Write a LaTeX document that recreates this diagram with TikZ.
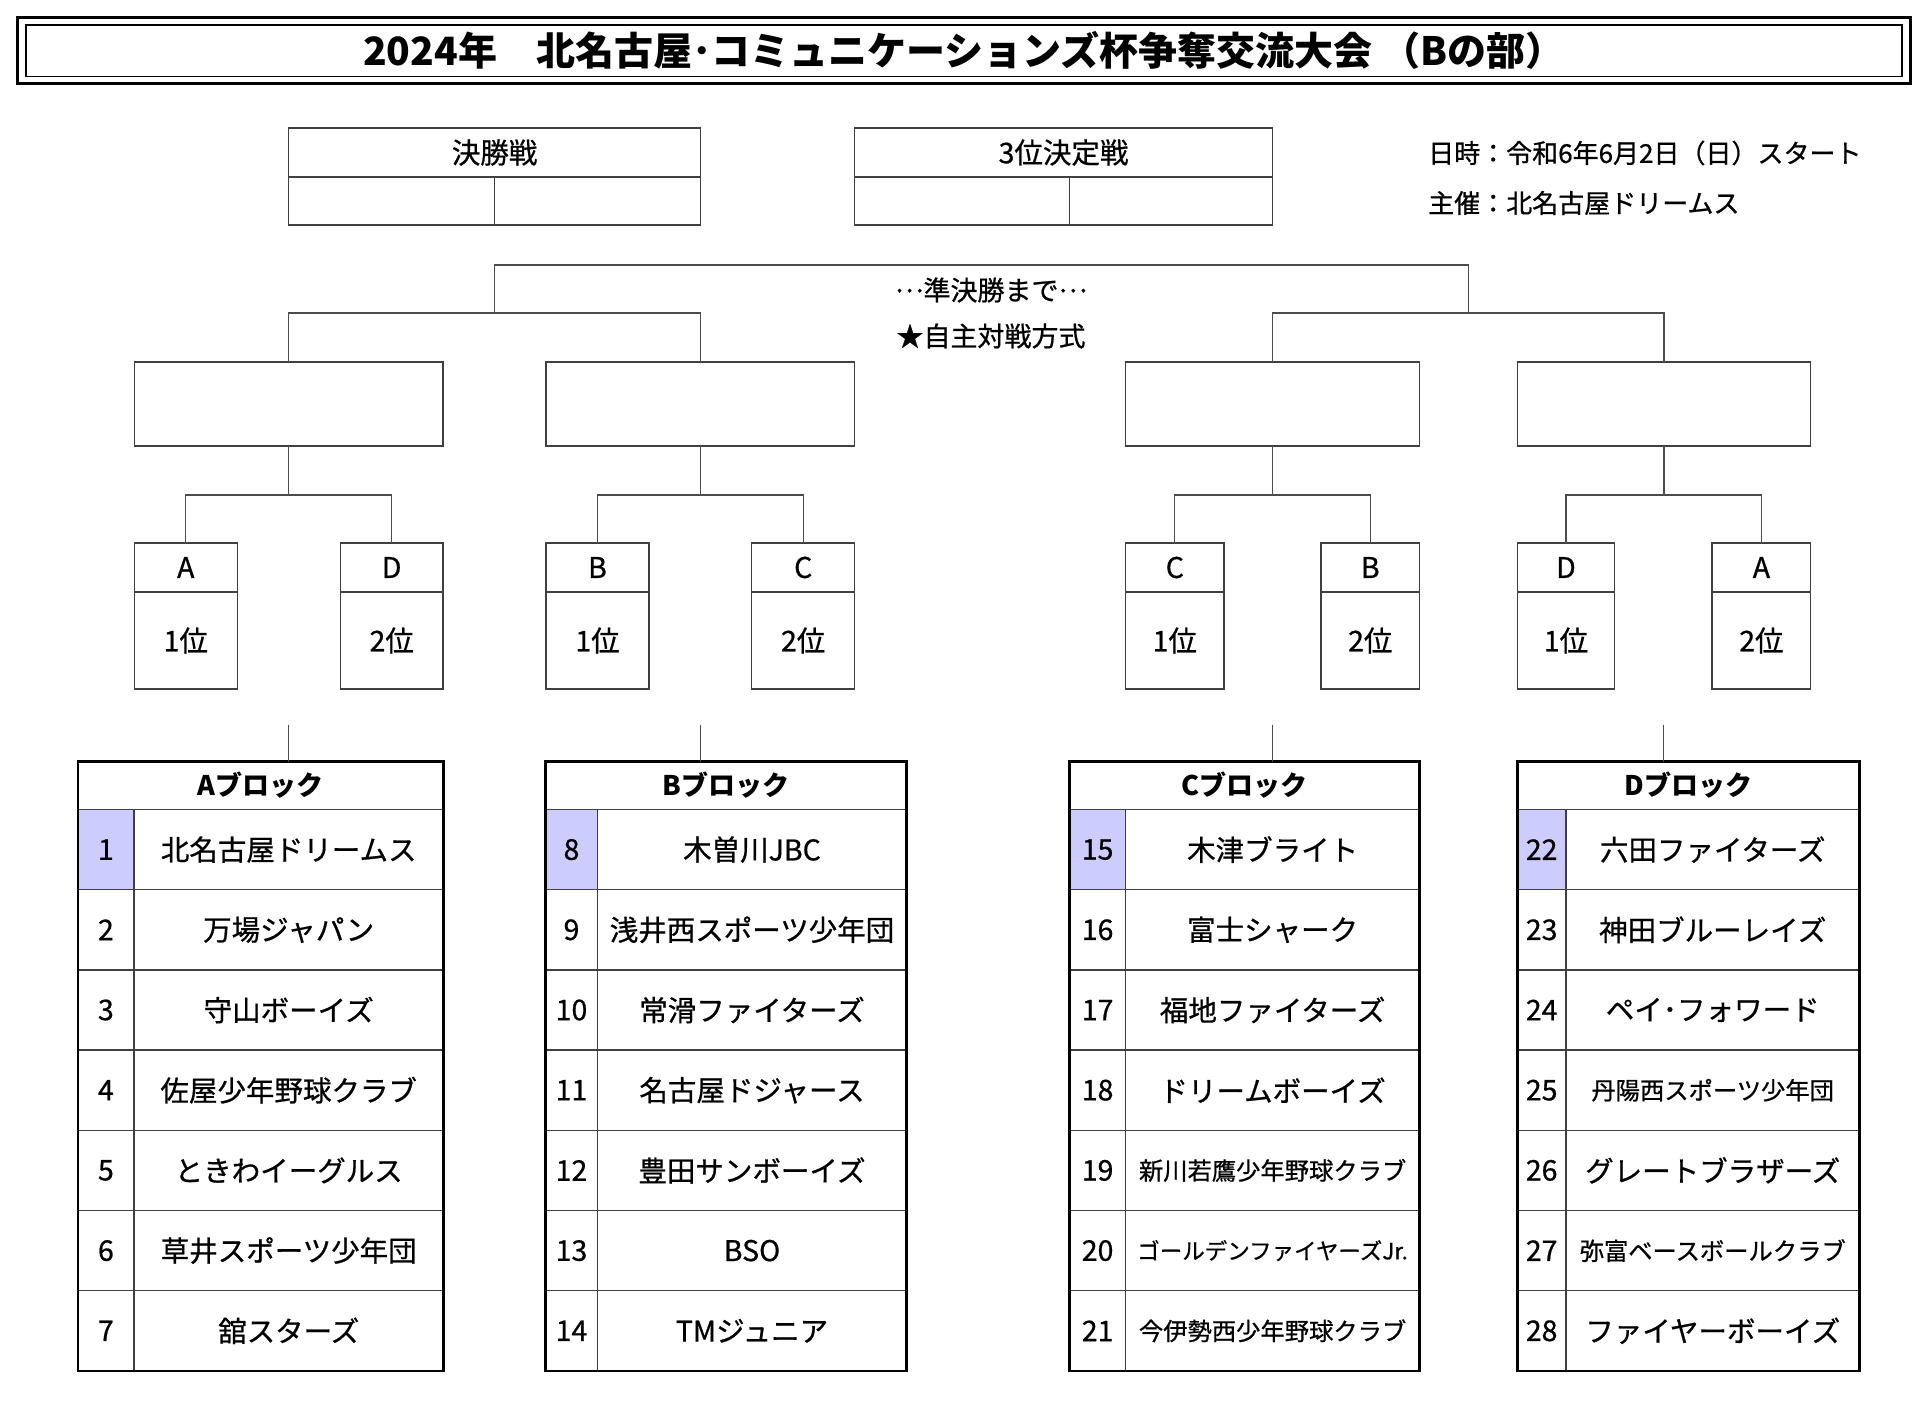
\documentclass[tikz,border=0pt]{standalone}
\usepackage{fontspec}
\setmainfont{Noto Sans CJK JP}[UprightFeatures={FakeBold=0.7}]
\usetikzlibrary{positioning}
\definecolor{lav}{RGB}{204,204,255}
\newcommand\smallname[1]{{\fontsize{24.3}{26}\selectfont#1}}
\newcommand\tinyname[1]{{\fontsize{22.5}{24}\selectfont#1}}
\newcommand\middots{\raisebox{0.3em}{…}}

\begin{document}
\begin{tikzpicture}[
x=1pt, y=-1pt,
cellbox/.style={draw=black!75, line width=1.3pt, inner sep=0pt, outer sep=0pt, font=\fontsize{28.5}{30}\selectfont},
headfont/.style={font=\bfseries\fontsize{27}{30}\selectfont},
link/.style={draw=black!70, line width=1.3pt},
tableframe/.style={draw=black, line width=2.6pt}
]
\fill[white] (0,0) rectangle (1926,1400);
\useasboundingbox (0,0) rectangle (1926,1400);

% title
\node[draw=black, line width=1.5pt, minimum width=1876, minimum height=51.5, inner sep=0pt,
  font=\bfseries\fontsize{39}{42}\selectfont] (title) at (964,50.75)
  {2024年　北名古屋･コミュニケーションズ杯争奪交流大会 （Bの部）};
\draw[line width=3pt] ([shift={(-7.5,-6.5)}]title.north west) rectangle ([shift={(7.5,6)}]title.south east);

% final and 3rd place
\node[cellbox, minimum width=412, minimum height=49] (F) at (494.6,152.5) {決勝戦};
\node[cellbox, minimum width=206, minimum height=48, below right=0pt and 0pt of F.south west] (FL) {};
\node[cellbox, minimum width=206, minimum height=48, right=0pt of FL] (FR) {};
\node[cellbox, minimum width=417.7, minimum height=49] (T) at (1063.55,152.5) {3位決定戦};
\node[cellbox, minimum width=214.9, minimum height=48, below right=0pt and 0pt of T.south west] (TL) {};
\node[cellbox, minimum width=202.8, minimum height=48, right=0pt of TL] (TR) {};

\node[anchor=west, inner sep=0pt, font=\fontsize{26}{28}\selectfont] (date) at (1428,153) {日時：令和6年6月2日（日）スタート};
\node[anchor=west, inner sep=0pt, font=\fontsize{26}{28}\selectfont] (host) at (1428,203) {主催：北名古屋ドリームス};

\node[inner sep=0pt, font=\fontsize{27}{30}\selectfont] (upto) at (991,290) {\middots 準決勝まで\middots};
\node[inner sep=0pt, font=\fontsize{27}{30}\selectfont] (self) at (991,336) {★自主対戦方式};

% semifinal boxes
\node[cellbox, minimum width=308.7, minimum height=84] (S1) at (288.6,404) {};
\node[cellbox, minimum width=308.7, minimum height=84] (S2) at (700.4,404) {};
\node[cellbox, minimum width=294, minimum height=84] (S3) at (1272.5,404) {};
\node[cellbox, minimum width=293.4, minimum height=84] (S4) at (1664,404) {};

\coordinate (m1) at (494.5,313);
\coordinate (m2) at (1468.2,313);
\draw[link] (S1.north) |- (m1) -| (S2.north);
\draw[link] (S3.north) |- (m2) -| (S4.north);
\draw[link] (m1) -- ++(0,-48) -| (m2);

% block places
\foreach \k/\cx/\w/\L/\R in {1/185.8/103/A/1位, 2/391.7/102.6/D/2位, 3/597.5/103/B/1位, 4/803.2/103.1/C/2位,
  5/1174.8/98.5/C/1位, 6/1370.3/98.5/B/2位, 7/1566/97.5/D/1位, 8/1761.4/98.7/A/2位}{
  \node[cellbox, minimum width=\w, minimum height=49] (q\k) at (\cx,567.5) {\L};
  \node[cellbox, minimum width=\w, minimum height=97, below=0pt of q\k] (r\k) {\R};
}

\draw[link] (S1.south) -- ++(0,49) coordinate (j1);
\draw[link] (q1.north) |- (j1) -| (q2.north);
\draw[link] (S2.south) -- ++(0,49) coordinate (j2);
\draw[link] (q3.north) |- (j2) -| (q4.north);
\draw[link] (S3.south) -- ++(0,49) coordinate (j3);
\draw[link] (q5.north) |- (j3) -| (q6.north);
\draw[link] (S4.south) -- ++(0,49) coordinate (j4);
\draw[link] (q7.north) |- (j4) -| (q8.north);

% A block
\node[cellbox, headfont, minimum width=365.6, minimum height=48] (hA) at (260.6,785.5) {Aブロック};
\foreach \n/\t/\f [count=\i from 0] in {1/北名古屋ドリームス/lav, 2/万場ジャパン/white, 3/守山ボーイズ/white,
  4/佐屋少年野球クラブ/white, 5/ときわイーグルス/white, 6/草井スポーツ少年団/white, 7/舘スターズ/white}{
  \node[cellbox, fill=\f, minimum width=56.2, minimum height=80.2] (nA\n) at (105.9,849.6+80.2*\i) {\n};
  \node[cellbox, minimum width=309.4, minimum height=80.2] (tA\n) at (288.7,849.6+80.2*\i) {\t};
}
\draw[tableframe] (hA.north west) rectangle (tA7.south east);

% B block
\node[cellbox, headfont, minimum width=361, minimum height=48] (hB) at (726,785.5) {Bブロック};
\foreach \n/\t/\f [count=\i from 0] in {8/木曽川JBC/lav, 9/浅井西スポーツ少年団/white, 10/常滑ファイターズ/white,
  11/名古屋ドジャース/white, 12/豊田サンボーイズ/white, 13/BSO/white, 14/TMジュニア/white}{
  \node[cellbox, fill=\f, minimum width=52, minimum height=80.2] (nB\n) at (571.5,849.6+80.2*\i) {\n};
  \node[cellbox, minimum width=309, minimum height=80.2] (tB\n) at (752,849.6+80.2*\i) {\t};
}
\draw[tableframe] (hB.north west) rectangle (tB14.south east);

% C block
\node[cellbox, headfont, minimum width=350, minimum height=48] (hC) at (1244.5,785.5) {Cブロック};
\foreach \n/\t/\f [count=\i from 0] in {15/木津ブライト/lav, 16/富士シャーク/white, 17/福地ファイターズ/white,
  18/ドリームボーイズ/white, 19/\smallname{新川若鷹少年野球クラブ}/white,
  20/\tinyname{ゴールデンファイヤーズJr.}/white, 21/\smallname{今伊勢西少年野球クラブ}/white}{
  \node[cellbox, fill=\f, minimum width=56.2, minimum height=80.2] (nC\n) at (1097.6,849.6+80.2*\i) {\n};
  \node[cellbox, minimum width=293.8, minimum height=80.2] (tC\n) at (1272.6,849.6+80.2*\i) {\t};
}
\draw[tableframe] (hC.north west) rectangle (tC21.south east);

% D block
\node[cellbox, headfont, minimum width=342.1, minimum height=48] (hD) at (1688.35,785.5) {Dブロック};
\foreach \n/\t/\f [count=\i from 0] in {22/六田ファイターズ/lav, 23/神田ブルーレイズ/white, 24/ペイ･フォワード/white,
  25/\smallname{丹陽西スポーツ少年団}/white, 26/グレートブラザーズ/white,
  27/\smallname{弥富ベースボールクラブ}/white, 28/ファイヤーボーイズ/white}{
  \node[cellbox, fill=\f, minimum width=48.7, minimum height=80.2] (nD\n) at (1541.65,849.6+80.2*\i) {\n};
  \node[cellbox, minimum width=293.4, minimum height=80.2] (tD\n) at (1712.7,849.6+80.2*\i) {\t};
}
\draw[tableframe] (hD.north west) rectangle (tD28.south east);

% links down to the blocks
\coordinate (bA) at (288.6,725);
\coordinate (bB) at (700.6,725);
\coordinate (bC) at (1272.6,725);
\coordinate (bD) at (1663.8,725);
\draw[link] (bA) -- (bA |- hA.north);
\draw[link] (bB) -- (bB |- hB.north);
\draw[link] (bC) -- (bC |- hC.north);
\draw[link] (bD) -- (bD |- hD.north);
\end{tikzpicture}
\end{document}
